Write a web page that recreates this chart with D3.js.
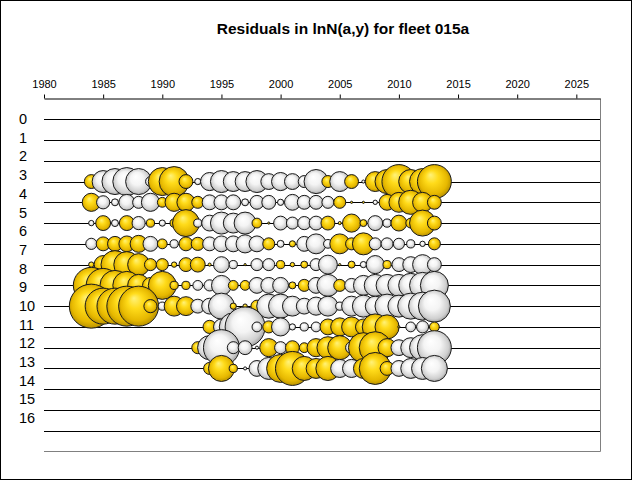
<!DOCTYPE html>
<html>
<head>
<meta charset="utf-8">
<script src="https://cdn.jsdelivr.net/npm/d3@7"></script>
<style>
  body { margin: 0; background: #fff; }
  svg { display: block; font-family: Arial, "Liberation Sans", sans-serif; }
</style>
</head>
<body>
<svg width="632" height="480"></svg>
<script>
// years and ages
const years = [1984, 1985, 1986, 1987, 1988, 1989, 1990, 1991, 1992, 1993,
               1994, 1995, 1996, 1997, 1998, 1999, 2000, 2001, 2002, 2003,
               2004, 2005, 2006, 2007, 2008, 2009, 2010, 2011, 2012, 2013];
const ages = [3, 4, 5, 6, 7, 8, 9, 10, 11, 12];

// residuals per age (positive = yellow, negative = white)
const res3  = [0.20, -0.50, -0.70, -0.81, -0.70, -0.10, 0.81, 0.93, 0.20, -0.04, -0.34, -0.50, -0.41, -0.41, -0.50, -0.26, -0.34, -0.26, -0.15, -0.60, 0.15, -0.41, 0.20, -0.01, 0.41, 0.60, 1.19, 0.60, 0.70, 1.19];
const res4  = [0.34, -0.18, -0.05, -0.26, -0.15, -0.34, 0.10, 0.34, 0.34, 0.15, -0.23, -0.23, -0.23, -0.05, -0.20, -0.20, -0.04, -0.26, -0.20, -0.20, -0.15, 0.15, 0.005, 0.005, -0.02, 0.26, 0.41, 0.60, 0.41, 0.20];
const res5  = [-0.03, 0.23, -0.05, 0.23, -0.18, 0.07, -0.04, 0.07, 0.75, -0.07, -0.26, -0.50, -0.41, -0.50, 0.10, 0.005, -0.20, -0.15, -0.18, -0.20, 0.20, 0.01, 0.34, 0.05, -0.23, -0.07, 0.26, 0.10, 0.70, 0.20];
const res6  = [-0.13, 0.20, 0.23, 0.26, 0.30, -0.23, 0.10, -0.07, 0.20, 0.18, -0.20, -0.26, -0.26, -0.34, -0.26, 0.15, -0.05, 0.04, -0.23, -0.41, -0.08, 0.41, 0.15, 0.50, -0.15, -0.15, -0.13, -0.07, -0.03, 0.15];
const res7  = [0.03, 0.34, 0.81, 0.70, 0.50, 0.15, 0.15, 0.03, 0.20, 0.23, 0.01, -0.26, -0.07, 0.005, -0.15, -0.15, 0.07, 0.02, 0.05, -0.15, -0.37, 0.005, 0.05, -0.04, -0.34, 0.07, -0.20, -0.26, -0.41, -0.20];
const res8  = [1.34, 1.19, 0.93, 0.81, 0.50, 0.26, 0.81, 0.07, 0.07, -0.10, -0.13, -0.41, 0.10, 0.10, -0.26, -0.26, -0.26, 0.05, 0.15, -0.26, -0.50, 0.15, -0.20, -0.41, -0.50, -0.50, -0.50, -0.60, -0.70, -0.81];
const res9  = [2.00, 1.34, 1.34, 1.65, 1.65, 0.18, -0.07, 0.41, 0.37, -0.20, -0.26, -0.70, 0.04, 0.02, 0.15, -0.60, -0.60, -0.41, -0.26, -0.34, -0.41, -0.07, -0.41, -0.50, -0.41, -0.60, -0.50, -0.70, -0.81, -1.06];
const res10 = [null, null, null, null, null, null, null, null, null, null, 0.18, -0.26, -0.81, -1.65, -0.10, 0.15, -0.34, -0.04, -0.07, -0.10, 0.26, 0.34, 0.41, 0.26, 0.70, 0.60, 0.005, -0.10, -0.15, 0.10];
const res11 = [null, null, null, null, null, null, null, null, null, 0.15, -0.60, -1.34, -0.15, -0.20, -0.01, 0.34, -0.15, 0.20, 0.10, 0.34, 0.50, 0.60, -0.15, 0.93, 1.06, 0.34, -0.26, -0.41, -0.70, -1.19];
const res12 = [null, null, null, null, null, null, null, null, null, null, 0.15, 0.70, 0.07, -0.01, -0.26, -0.50, 0.81, 1.19, 0.60, 0.41, 0.60, -0.34, -0.34, 0.41, 1.06, 0.20, -0.26, -0.41, -0.50, -0.70];

const residuals = [res3, res4, res5, res6, res7, res8, res9, res10, res11, res12];

// axis labels
const xTicks = [1980, 1985, 1990, 1995, 2000, 2005, 2010, 2015, 2020, 2025];
const rowLabels = ["0", "1", "2", "3", "4", "5", "6", "7", "8", "9", "10", "11", "12", "13", "14", "15", "16"];
const gridAges = [0, 1, 2, 3, 4, 5, 6, 7, 8, 9, 10, 11, 12, 13, 14, 15];

const svg = d3.select("svg");

// scales
const x = d3.scaleLinear().domain([1980, 2027]).range([44, 600]);
const y = d3.scaleLinear().domain([-1, 16]).range([98.5, 451.5]);
const yLab = d3.scalePoint().domain(rowLabels).range([119, 418]);
const r = d3.scaleSqrt().domain([0, 2]).range([0, 22]);

// gradients for the 3D bubbles
const defs = svg.append("defs");
function grad(id, stops) {
    const g = defs.append("radialGradient").attr("id", id)
        .attr("cx", "50%").attr("cy", "50%").attr("r", "55%")
        .attr("fx", "38%").attr("fy", "30%");
    stops.forEach(s => g.append("stop").attr("offset", s[0]).attr("stop-color", s[1]));
}
grad("gY", [["0%", "#fff27a"], ["35%", "#ffdb1a"], ["75%", "#e6b800"], ["100%", "#a88400"]]);
grad("gW", [["0%", "#ffffff"], ["45%", "#f4f4f4"], ["80%", "#cfcfcf"], ["100%", "#8c8c8c"]]);

// outer frame
svg.append("rect")
    .attr("x", 0.5).attr("y", 0.5)
    .attr("width", 631).attr("height", 479)
    .attr("fill", "none").attr("stroke", "#000");

// title
svg.append("text")
    .attr("x", 343).attr("y", 34)
    .attr("text-anchor", "middle")
    .attr("font-size", 15.5).attr("font-weight", "bold")
    .text("Residuals in lnN(a,y) for fleet 015a");

// plot border (right and bottom, grey)
svg.append("path")
    .attr("d", `M${x.range()[1] + 0.5},${y(-1)}V${y(16)}H${x.range()[0]}`)
    .attr("fill", "none").attr("stroke", "#808080");

// horizontal lines
svg.append("g").selectAll("line")
    .data(gridAges)
    .enter().append("line")
    .attr("x1", x.range()[0]).attr("x2", x.range()[1])
    .attr("y1", d => Math.round(y(d)) + 0.5)
    .attr("y2", d => Math.round(y(d)) + 0.5)
    .attr("stroke", "#000");

// top axis
const ax = svg.append("g")
    .attr("transform", `translate(0,${y(-1)})`)
    .call(d3.axisTop(x).tickValues(xTicks).tickFormat(d3.format("d")).tickSize(4).tickSizeOuter(0));
ax.select(".domain").attr("stroke", "#000");
ax.selectAll(".tick line").attr("stroke", "#000");
ax.selectAll(".tick text")
    .attr("font-size", 11).attr("font-family", "Arial, 'Liberation Sans', sans-serif")
    .attr("fill", "#000").attr("dy", "-0.35em");

// row labels
svg.append("g").selectAll("text")
    .data(rowLabels)
    .enter().append("text")
    .attr("x", 19)
    .attr("y", d => yLab(d))
    .attr("dy", "0.35em")
    .attr("font-size", 14.5)
    .text(d => d);

// bubbles
const pts = [];
ages.forEach((a, i) => {
    years.forEach((yr, j) => {
        const v = residuals[i][j];
        if (v !== null) pts.push({ age: a, year: yr, v: v });
    });
});

svg.append("g").selectAll("circle")
    .data(pts)
    .enter().append("circle")
    .attr("cx", d => x(d.year))
    .attr("cy", d => y(d.age))
    .attr("r", d => r(Math.abs(d.v)))
    .attr("fill", d => d.v > 0 ? "url(#gY)" : "url(#gW)")
    .attr("stroke", "#1a1a1a")
    .attr("stroke-width", 1);
</script>
</body>
</html>
